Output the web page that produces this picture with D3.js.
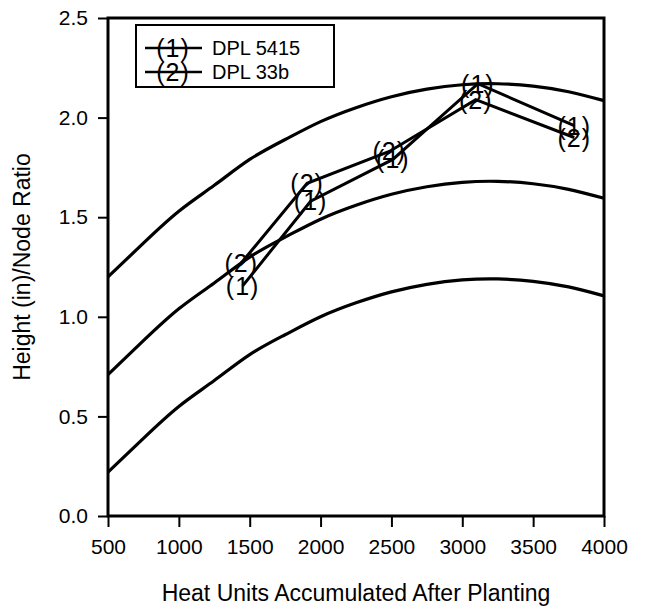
<!DOCTYPE html>
<html lang="en">
<head>
<meta charset="UTF-8">
<title>Height/Node Ratio</title>
<script src="https://d3js.org/d3.v7.min.js"></script>
<style>
    body { margin: 0; background: #fff; }
    svg { display: block; font-family: Arial, 'Liberation Sans', sans-serif; }
</style>
</head>
<body>
<svg id="chart" width="646" height="607"></svg>
<script>
// reference curves, every 250 heat units
const curveX = [500, 750, 1000, 1250, 1500, 1750, 2000, 2250, 2500, 2750, 3000, 3250, 3500, 3750, 4000];
const curveLow = [0.22, 0.39, 0.55, 0.68, 0.81, 0.91, 1.00, 1.07, 1.125, 1.163, 1.185, 1.19, 1.178, 1.15, 1.105];
const curveMid = [0.71, 0.88, 1.04, 1.17, 1.30, 1.40, 1.49, 1.56, 1.615, 1.653, 1.675, 1.68, 1.668, 1.64, 1.595];
const curveHigh = [1.20, 1.37, 1.53, 1.66, 1.79, 1.89, 1.98, 2.05, 2.105, 2.143, 2.165, 2.17, 2.158, 2.13, 2.085];

// cultivar observations
const series1Name = "DPL 5415";
const series1X = [1450, 1930, 2510, 3110, 3790];
const series1Y = [1.155, 1.58, 1.79, 2.17, 1.96];
const series2Name = "DPL 33b";
const series2X = [1440, 1905, 2485, 3095, 3790];
const series2Y = [1.27, 1.67, 1.83, 2.09, 1.90];

const xTicks = [500, 1000, 1500, 2000, 2500, 3000, 3500, 4000];
const yTicks = [0.0, 0.5, 1.0, 1.5, 2.0, 2.5];

const svg = d3.select("#chart");
const margin = {top: 18, right: 42, bottom: 91, left: 108};
const width = 646 - margin.left - margin.right;
const height = 607 - margin.top - margin.bottom;

const g = svg.append("g").attr("transform", `translate(${margin.left},${margin.top})`);

const x = d3.scaleLinear().domain([500, 4000]).range([0, width]);
const y = d3.scaleLinear().domain([0, 2.5]).range([height, 0]);

const curveLine = d3.line()
    .x(d => x(d[0]))
    .y(d => y(d[1]))
    .curve(d3.curveNatural);
const line = d3.line()
    .x(d => x(d[0]))
    .y(d => y(d[1]));

// reference curves
[curveLow, curveMid, curveHigh].forEach(vals => {
    g.append("path")
        .datum(curveX.map((v, i) => [v, vals[i]]))
        .attr("fill", "none")
        .attr("stroke", "#000")
        .attr("stroke-width", 3.2)
        .attr("d", curveLine);
});

// data series
const series = [
    {label: "(1)", name: series1Name, xs: series1X, ys: series1Y},
    {label: "(2)", name: series2Name, xs: series2X, ys: series2Y}
];

series.forEach(s => {
    const pts = s.xs.map((v, i) => [v, s.ys[i]]);
    g.append("path")
        .datum(pts)
        .attr("fill", "none")
        .attr("stroke", "#000")
        .attr("stroke-width", 3)
        .attr("d", line);
    g.selectAll(null)
        .data(pts)
        .enter().append("text")
        .attr("x", d => x(d[0]))
        .attr("y", d => y(d[1]))
        .attr("text-anchor", "middle")
        .attr("dominant-baseline", "central")
        .attr("font-size", 25)
        .attr("letter-spacing", 1)
        .text(s.label);
});

// axes
const xAxis = g.append("g")
    .attr("transform", `translate(0,${height})`)
    .call(d3.axisBottom(x).tickValues(xTicks).tickSize(11).tickPadding(12).tickFormat(d3.format("d")));
const yAxis = g.append("g")
    .call(d3.axisLeft(y).tickValues(yTicks).tickSize(10).tickPadding(10).tickFormat(d3.format(".1f")));

[xAxis, yAxis].forEach(a => {
    a.select(".domain").remove();
    a.selectAll("line").attr("stroke", "#000").attr("stroke-width", 2);
    a.selectAll("text").attr("font-size", 21).attr("fill", "#000");
});

// frame
g.append("rect")
    .attr("width", width)
    .attr("height", height)
    .attr("fill", "none")
    .attr("stroke", "#000")
    .attr("stroke-width", 3);

// axis titles
svg.append("text")
    .attr("x", margin.left + width / 2)
    .attr("y", 601)
    .attr("text-anchor", "middle")
    .attr("font-size", 23)
    .text("Heat Units Accumulated After Planting");

svg.append("text")
    .attr("transform", `translate(30,${margin.top + height / 2}) rotate(-90)`)
    .attr("text-anchor", "middle")
    .attr("font-size", 23)
    .text("Height (in)/Node Ratio");

// legend
const legend = svg.append("g").attr("transform", "translate(136,25)");
legend.append("rect")
    .attr("width", 198)
    .attr("height", 62)
    .attr("fill", "#fff")
    .attr("stroke", "#000")
    .attr("stroke-width", 2);

series.forEach((s, i) => {
    const cy = 23 + i * 24;
    legend.append("line")
        .attr("x1", 9).attr("x2", 66)
        .attr("y1", cy).attr("y2", cy)
        .attr("stroke", "#000")
        .attr("stroke-width", 2.5);
    legend.append("text")
        .attr("x", 37).attr("y", cy)
        .attr("text-anchor", "middle")
        .attr("dominant-baseline", "central")
        .attr("font-size", 25)
        .attr("letter-spacing", 1)
        .text(s.label);
    legend.append("text")
        .attr("x", 76).attr("y", cy)
        .attr("dominant-baseline", "central")
        .attr("font-size", 20)
        .text(s.name);
});
</script>
</body>
</html>
